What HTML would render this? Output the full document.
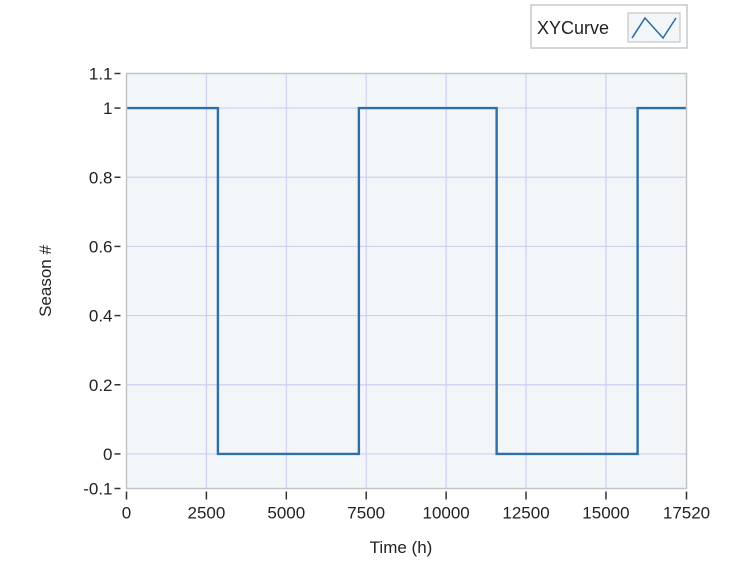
<!DOCTYPE html>
<html><head><style>
body{margin:0;background:#fff;font-family:"Liberation Sans",sans-serif;}
svg text{font-family:"Liberation Sans",sans-serif;fill:#222;}
</style></head><body>
<svg width="754" height="563">
<g id="legend">
<rect x="531" y="5" width="156" height="43" fill="#fff" stroke="#c8c8c8" stroke-width="1.5"/>
<text x="537" y="34" font-size="18">XYCurve</text>
<rect x="628" y="13" width="52" height="29" fill="#f3f6f8" stroke="#bbb"/>
<polyline points="632,38 645,18 663,38 676,18" fill="none" stroke="#2e6fa8" stroke-width="1.6"/>
</g>
<rect x="126.5" y="73.5" width="560" height="415" fill="#f3f6f8"/>
<g id="grid"></g>
<g id="marks"></g>
<rect x="126.5" y="73.5" width="560" height="415" fill="none" stroke="#c4c4c4" stroke-width="1.5"/>
<g id="axes"></g>
<text x="401" y="553" font-size="17" text-anchor="middle">Time (h)</text>
<text transform="translate(51,281) rotate(-90)" font-size="17" text-anchor="middle">Season #</text>
</svg>
<script>
const xTicks=[0,2500,5000,7500,10000,12500,15000,17520];
const yTicks=[-0.1,0,0.2,0.4,0.6,0.8,1,1.1];
const yGrid=[0,0.2,0.4,0.6,0.8,1];
const stepX=[0,2860,2860,7270,7270,11580,11580,15990,15990,17520];
const stepY=[1,1,0,0,1,1,0,0,1,1];
const X0=126.5,X1=686.5,Y0=488.5,Y1=73.5;
const sx=v=>X0+v/17520*(X1-X0);
const sy=v=>Y0-(v+0.1)/1.2*(Y0-Y1);
const NS='http://www.w3.org/2000/svg';
function mk(t,a,p){const e=document.createElementNS(NS,t);for(const k in a)e.setAttribute(k,a[k]);p.appendChild(e);return e;}
const grid=document.getElementById('grid'),axes=document.getElementById('axes'),marks=document.getElementById('marks');
xTicks.slice(1,-1).forEach(v=>{const l=mk('line',{x1:sx(v),x2:sx(v),y1:Y1,y2:Y0,stroke:'#cfcff2','stroke-width':1.2},grid);

});
yGrid.forEach(v=>{const l=mk('line',{x1:X0,x2:X1,y1:sy(v),y2:sy(v),stroke:'#cfcff2','stroke-width':1.2},grid);

});
xTicks.forEach(v=>{mk('line',{x1:sx(v),x2:sx(v),y1:Y0+3,y2:Y0+11,stroke:'#333','stroke-width':1.5},axes);
const t=mk('text',{x:sx(v),y:Y0+30,'font-size':17,'text-anchor':'middle'},axes);t.textContent=v;

});
yTicks.forEach(v=>{mk('line',{x1:X0-12,x2:X0-6,y1:sy(v),y2:sy(v),stroke:'#333','stroke-width':1.5},axes);
const t=mk('text',{x:X0-14,y:sy(v)+6,'font-size':17,'text-anchor':'end'},axes);t.textContent=v;

});
const pts=stepX.map((x,i)=>sx(x)+','+sy(stepY[i])).join(' ');
const pl=mk('polyline',{points:pts,fill:'none',stroke:'#2e6fa8','stroke-width':2.4},marks);


</script>
</body></html>
